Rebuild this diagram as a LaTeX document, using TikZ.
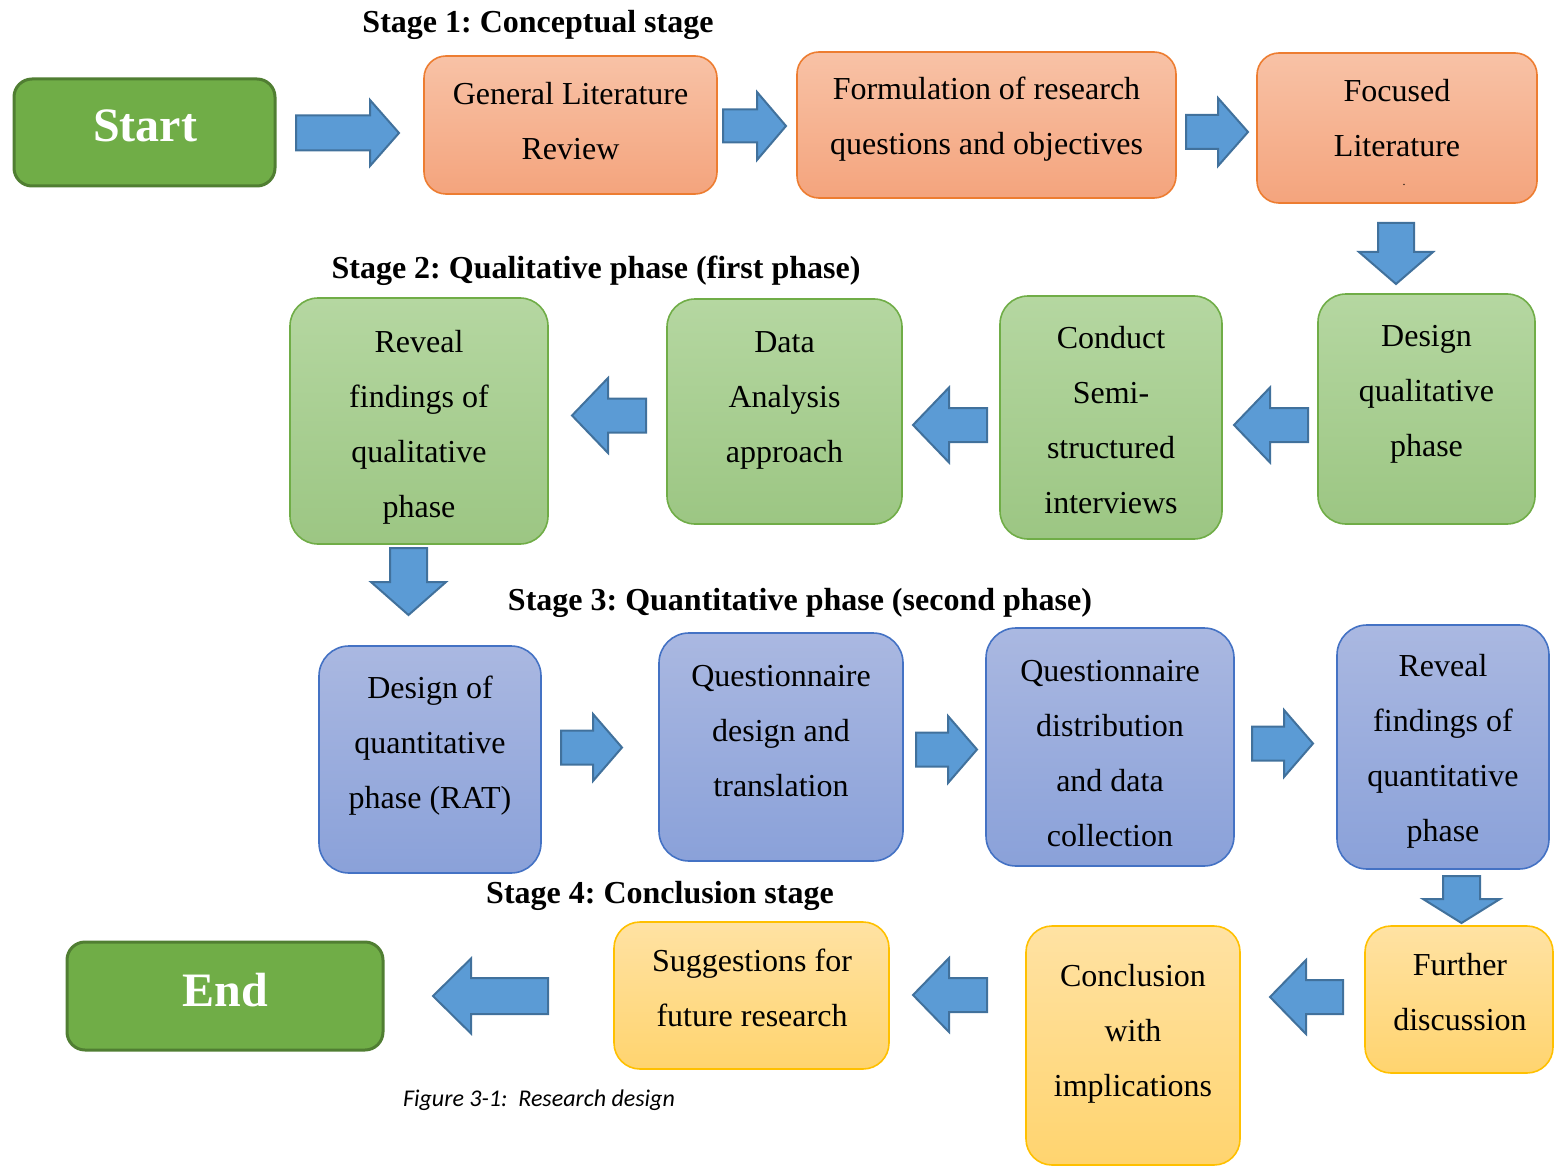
\documentclass[tikz,border=0pt]{standalone}
\usepackage{fontspec}
\setmainfont{Liberation Serif}
\newfontfamily\capfont{Carlito}
\frenchspacing
\definecolor{orT}{HTML}{F8C2A6}
\definecolor{orB}{HTML}{F4A47D}
\definecolor{orD}{HTML}{ED7D31}
\definecolor{grT}{HTML}{B5D7A1}
\definecolor{grB}{HTML}{9CC683}
\definecolor{grD}{HTML}{70AD47}
\definecolor{blT}{HTML}{AAB8E1}
\definecolor{blB}{HTML}{8AA1D9}
\definecolor{blD}{HTML}{4472C4}
\definecolor{yeT}{HTML}{FFE2A3}
\definecolor{yeB}{HTML}{FFD46F}
\definecolor{yeD}{HTML}{FFC000}
\definecolor{seG}{HTML}{70AD47}
\definecolor{seD}{HTML}{507E32}
\definecolor{arF}{HTML}{5B9BD5}
\definecolor{arD}{HTML}{41719C}
\newcommand\DBox[6]{\node[#6, minimum width={(#4-#2)*0.5pt}, minimum height={(#5-#3)*0.5pt}] (#1) at ({(#2+#4)/2},{(#3+#5)/2}) {};}
% #1 rotation, #2 tip x, #3 tip y, #4 length, #5 half head, #6 half body, #7 head length
\newcommand\BArrow[7]{\draw[blockarrow, shift={(#2,#3)}, rotate=#1] (0,0) -- (-#7,#5) -- (-#7,#6) -- (-#4,#6) -- (-#4,-#6) -- (-#7,-#6) -- (-#7,-#5) -- cycle;}
\begin{document}
\begin{tikzpicture}[x=0.5pt,y=-0.5pt,
  base/.style={inner sep=0pt, outer sep=0pt, line width=0.8pt},
  obox/.style={base, draw=orD, top color=orT, bottom color=orB, rounded corners=11pt},
  gbox/.style={base, draw=grD, top color=grT, bottom color=grB, rounded corners=14pt},
  bbox/.style={base, draw=blD, top color=blT, bottom color=blB, rounded corners=15pt},
  ybox/.style={base, draw=yeD, top color=yeT, bottom color=yeB, rounded corners=13pt},
  sebox/.style={base, draw=seD, fill=seG, line width=1.5pt, rounded corners=9pt},
  txt/.style={align=center, inner sep=0pt, font=\fontsize{16}{27.5}\selectfont},
  setxt/.style={inner sep=0pt, text=white, font=\bfseries\fontsize{24}{28}\selectfont},
  ttl/.style={inner sep=0pt, font=\bfseries\fontsize{16}{19}\selectfont},
  blockarrow/.style={draw=arD, fill=arF, line width=1pt, line join=miter}
]
\useasboundingbox (0,0) rectangle (1557,1166);

% ---------- Stage 1 ----------
\node[ttl] (s1) at (538,25) {Stage 1: Conceptual stage};
\DBox{start}{14}{79}{275}{186}{sebox}
\node[setxt] (tstart) at (145,126) {Start};
\DBox{gl}{424}{56}{717}{194}{obox}
\node[txt] (tgl) at (570.5,121) {\strut General Literature\\\strut Review};
\DBox{form}{797}{52}{1176}{198}{obox}
\node[txt] (tform) at (986.5,116) {\strut Formulation of research\\\strut questions and objectives};
\DBox{focus}{1257}{53}{1537}{203}{obox}
\node[txt] (tfocus) at (1397,118) {\strut Focused\\\strut Literature};
\node[inner sep=0pt, font=\fontsize{6}{6}\selectfont] (dot) at (1404,185) {.};

\BArrow{0}{399}{133}{103}{33}{17.5}{29}
\BArrow{0}{786}{126}{63}{34}{16.5}{29}
\BArrow{0}{1248}{132}{62}{34}{17}{30}
\BArrow{-90}{1396}{284}{61}{37}{18}{32}

% ---------- Stage 2 ----------
\node[ttl] (s2) at (596,271) {Stage 2: Qualitative phase (first phase)};
\DBox{dq}{1318}{294}{1535}{524}{gbox}
\node[txt] (tdq) at (1426.5,390) {\strut Design\\\strut qualitative\\\strut phase};
\DBox{csi}{1000}{296}{1222}{539}{gbox}
\node[txt] (tcsi) at (1111,420) {\strut Conduct\\\strut Semi-\\\strut structured\\\strut interviews};
\DBox{da}{667}{299}{902}{524}{gbox}
\node[txt] (tda) at (784.5,396) {\strut Data\\\strut Analysis\\\strut approach};
\DBox{rq}{290}{298}{548}{544}{gbox}
\node[txt] (trq) at (419,424) {\strut Reveal\\\strut findings of\\\strut qualitative\\\strut phase};

\BArrow{180}{1234}{425}{74}{37.5}{17}{36}
\BArrow{180}{913}{425}{74}{37.5}{17}{36}
\BArrow{180}{572}{415.5}{74}{37.5}{17}{36}
\BArrow{-90}{408.5}{615}{67}{37.5}{18.5}{33}

% ---------- Stage 3 ----------
\node[ttl] (s3) at (800,603) {Stage 3: Quantitative phase (second phase)};
\DBox{dqn}{319}{646}{541}{873}{bbox}
\node[txt] (tdqn) at (430,742) {\strut Design of\\\strut quantitative\\\strut phase (RAT)};
\DBox{qdt}{659}{633}{903}{861}{bbox}
\node[txt] (tqdt) at (781,730) {\strut Questionnaire\\\strut design and\\\strut translation};
\DBox{qdd}{986}{628}{1234}{866}{bbox}
\node[txt] (tqdd) at (1110,753) {\strut Questionnaire\\\strut distribution\\\strut and data\\\strut collection};
\DBox{rqn}{1337}{625}{1549}{869}{bbox}
\node[txt] (trqn) at (1443,748) {\strut Reveal\\\strut findings of\\\strut quantitative\\\strut phase};

\BArrow{0}{622}{747.5}{61}{33.5}{17}{29}
\BArrow{0}{977}{749.5}{61}{33.5}{17}{29}
\BArrow{0}{1313}{743.5}{61}{33.5}{17}{29}
\BArrow{-90}{1461.5}{923}{47}{38.5}{18.5}{24}

% ---------- Stage 4 ----------
\node[ttl] (s4) at (660,896) {Stage 4: Conclusion stage};
\DBox{fd}{1365}{926}{1553}{1073}{ybox}
\node[txt] (tfd) at (1460,992) {\strut Further\\\strut discussion};
\DBox{cwi}{1026}{926}{1240}{1165}{ybox}
\node[txt] (tcwi) at (1133,1030) {\strut Conclusion\\\strut with\\\strut implications};
\DBox{sfr}{614}{922}{889}{1069}{ybox}
\node[txt] (tsfr) at (752,988) {\strut Suggestions for\\\strut future research};
\DBox{end}{67}{942}{383}{1050}{sebox}
\node[setxt] (tend) at (225,990) {End};

\BArrow{180}{1270}{997}{73}{37}{17}{36}
\BArrow{180}{913}{995}{74}{37}{17}{36}
\BArrow{180}{433}{996}{115}{37.5}{18}{38}

\node[inner sep=0pt, font=\capfont\itshape\fontsize{12}{14}\selectfont] (cap) at (539,1100) {Figure 3-1:\ \ Research design};
\end{tikzpicture}
\end{document}
